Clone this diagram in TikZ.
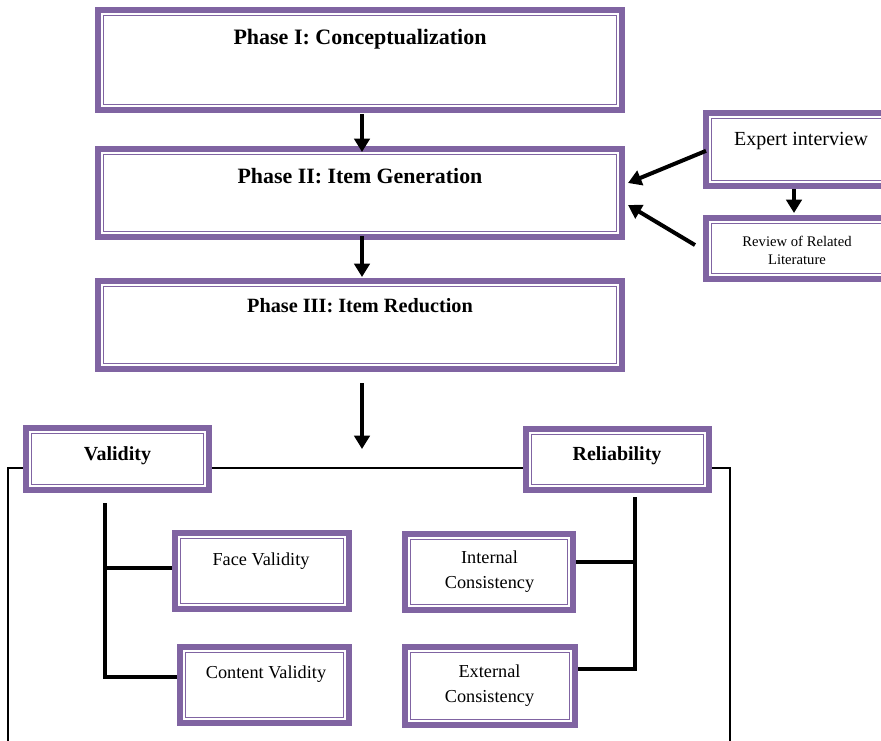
\documentclass[tikz,border=0pt]{standalone}
\usepackage{fontspec}
\setmainfont{Liberation Serif}
\usetikzlibrary{arrows.meta}
\pgfdeclarelayer{bg}
\pgfsetlayers{bg,main}
\definecolor{pur}{HTML}{8064A2}
\tikzset{
  obox/.style={draw=pur, line width=4.5pt, fill=white, rectangle, inner sep=0pt, outer sep=0pt},
  thinb/.style={draw=pur, line width=1.1pt},
  arr/.style={line width=3pt, -{Triangle[width=11.5pt,length=10pt]}},
  tree/.style={line width=2.5pt},
  framel/.style={line width=1.5pt},
  ttl/.style={font=\bfseries\fontsize{16.4}{19}\selectfont, anchor=base},
  hdr/.style={font=\bfseries\fontsize{15}{18}\selectfont, anchor=base},
  lbl/.style={font=\fontsize{13.7}{18.75}\selectfont, align=center},
}
\newcommand\dblbox[5]{%
  \node[obox, minimum width={(#4-#2-6)*0.75}, minimum height={(#5-#3-6)*0.75}] (#1) at ({(#2+#4)/2},{(#3+#5)/2}) {};
  \draw[thinb] ([xshift=4.3pt,yshift=-4.3pt]#1.north west) rectangle ([xshift=-4.3pt,yshift=4.3pt]#1.south east);
}
\begin{document}
\begin{tikzpicture}[x=0.75pt,y=-0.75pt]
\useasboundingbox (0,0) rectangle (881,740);
% boxes
\dblbox{p1}{95}{7}{625}{113}
\dblbox{p2}{95}{146}{625}{240}
\dblbox{p3}{95}{278}{625}{372}
\dblbox{ei}{703}{110}{895}{189}
\dblbox{rv}{703}{215}{895}{282}
\dblbox{va}{23}{425}{212}{493}
\dblbox{re}{523}{426}{712}{493}
\dblbox{fv}{172}{530}{352}{612}
\dblbox{cv}{177}{644}{352}{726}
\dblbox{ic}{402}{531}{576}{613}
\dblbox{ec}{402}{644}{578}{728}
% texts
\node[ttl, font=\bfseries\fontsize{16.5}{19}\selectfont] (t1) at (360,44) {Phase I: Conceptualization};
\node[ttl] (t2) at (360,183) {Phase II: Item Generation};
\node[ttl, font=\bfseries\fontsize{15.2}{18}\selectfont] (t3) at (360,312) {Phase III: Item Reduction};
\node[font=\fontsize{15}{18}\selectfont, anchor=base] (tei) at (801,145) {Expert interview};
\node[font=\fontsize{11}{13.5}\selectfont, align=center] (trv) at (797,250.5) {Review of Related\\Literature};
\node[hdr] (tva) at (117.5,460) {Validity};
\node[hdr] (tre) at (617,460) {Reliability};
\node[lbl, anchor=base] (tfv) at (261,565) {Face Validity};
\node[lbl, anchor=base] (tcv) at (266,678) {Content Validity};
\node[lbl] (tic) at (489.5,571.5) {Internal\\Consistency};
\node[lbl] (tec) at (489.5,685.5) {External\\Consistency};
% arrows
\draw[arr] ([xshift=1.5pt,yshift=-3pt]p1.south) -- ([xshift=1.5pt,yshift=-2.25pt]p2.north);
\draw[arr] ([xshift=1.5pt,yshift=0.75pt]p2.south) -- ([xshift=1.5pt,yshift=3pt]p3.north);
\coordinate (fe) at (362,449);
\draw[arr] ([xshift=1.5pt,yshift=-10.5pt]p3.south) -- (fe);
\draw[arr] ([xshift=-3.75pt,yshift=-2.25pt]ei.south) -- ([xshift=-3.75pt,yshift=3.75pt]rv.north);
\draw[arr] ([yshift=-1pt]ei.west) -- ([xshift=4.5pt,yshift=7.5pt]p2.east);
\draw[arr] ([xshift=-8.25pt,yshift=2.6pt]rv.west) -- ([xshift=4.5pt,yshift=-9pt]p2.east);
% background lines
\begin{pgfonlayer}{bg}
\draw[framel] (8,745) -- (8,468) -- (730,468) -- (730,745);
\coordinate (vt) at (105,503);
\path ([yshift=2.25pt]fv.west) coordinate (fvw);
\path ([yshift=6pt]cv.west) coordinate (cvw);
\draw[tree] (vt) |- (cvw);
\draw[tree] (vt |- fvw) -- (fvw);
\coordinate (rt) at (635,497);
\path ([yshift=7.5pt]ic.east) coordinate (ice);
\path ([yshift=12.75pt]ec.east) coordinate (ece);
\draw[tree] (rt) |- (ece);
\draw[tree] (rt |- ice) -- (ice);
\end{pgfonlayer}
\end{tikzpicture}
\end{document}
